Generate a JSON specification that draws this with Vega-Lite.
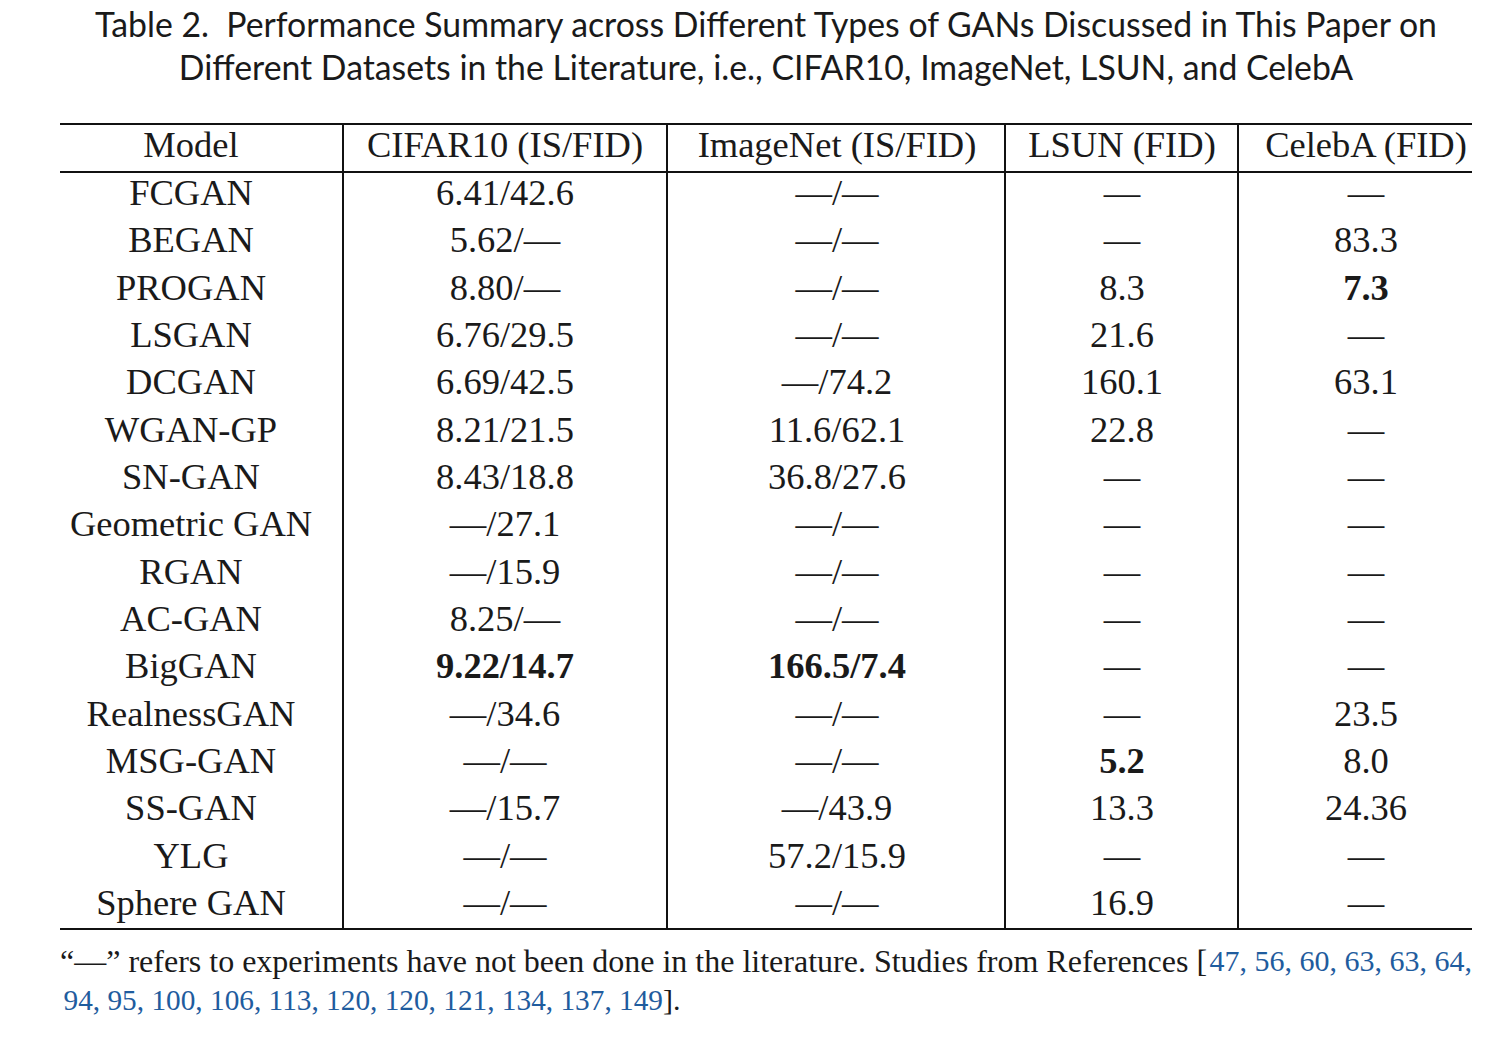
{
  "$schema": "https://vega.github.io/schema/vega-lite/v6.json",
  "width": 1412,
  "height": 1037,
  "autosize": "none",
  "padding": {"left": 60, "right": 39, "top": 0, "bottom": 0},
  "background": "white",
  "config": {"view": {"stroke": null}},
  "datasets": {
    "cells": [
      {"row": 0, "col": 0, "text": "Model"},
      {"row": 0, "col": 1, "text": "CIFAR10 (IS/FID)"},
      {"row": 0, "col": 2, "text": "ImageNet (IS/FID)"},
      {"row": 0, "col": 3, "text": "LSUN (FID)"},
      {"row": 0, "col": 4, "text": "CelebA (FID)"},
      {"row": 1, "col": 0, "text": "FCGAN"},
      {"row": 1, "col": 1, "text": "6.41/42.6"},
      {"row": 1, "col": 2, "text": "—/—"},
      {"row": 1, "col": 3, "text": "—"},
      {"row": 1, "col": 4, "text": "—"},
      {"row": 2, "col": 0, "text": "BEGAN"},
      {"row": 2, "col": 1, "text": "5.62/—"},
      {"row": 2, "col": 2, "text": "—/—"},
      {"row": 2, "col": 3, "text": "—"},
      {"row": 2, "col": 4, "text": "83.3"},
      {"row": 3, "col": 0, "text": "PROGAN"},
      {"row": 3, "col": 1, "text": "8.80/—"},
      {"row": 3, "col": 2, "text": "—/—"},
      {"row": 3, "col": 3, "text": "8.3"},
      {"row": 3, "col": 4, "text": "7.3", "best": 1},
      {"row": 4, "col": 0, "text": "LSGAN"},
      {"row": 4, "col": 1, "text": "6.76/29.5"},
      {"row": 4, "col": 2, "text": "—/—"},
      {"row": 4, "col": 3, "text": "21.6"},
      {"row": 4, "col": 4, "text": "—"},
      {"row": 5, "col": 0, "text": "DCGAN"},
      {"row": 5, "col": 1, "text": "6.69/42.5"},
      {"row": 5, "col": 2, "text": "—/74.2"},
      {"row": 5, "col": 3, "text": "160.1"},
      {"row": 5, "col": 4, "text": "63.1"},
      {"row": 6, "col": 0, "text": "WGAN-GP"},
      {"row": 6, "col": 1, "text": "8.21/21.5"},
      {"row": 6, "col": 2, "text": "11.6/62.1"},
      {"row": 6, "col": 3, "text": "22.8"},
      {"row": 6, "col": 4, "text": "—"},
      {"row": 7, "col": 0, "text": "SN-GAN"},
      {"row": 7, "col": 1, "text": "8.43/18.8"},
      {"row": 7, "col": 2, "text": "36.8/27.6"},
      {"row": 7, "col": 3, "text": "—"},
      {"row": 7, "col": 4, "text": "—"},
      {"row": 8, "col": 0, "text": "Geometric GAN"},
      {"row": 8, "col": 1, "text": "—/27.1"},
      {"row": 8, "col": 2, "text": "—/—"},
      {"row": 8, "col": 3, "text": "—"},
      {"row": 8, "col": 4, "text": "—"},
      {"row": 9, "col": 0, "text": "RGAN"},
      {"row": 9, "col": 1, "text": "—/15.9"},
      {"row": 9, "col": 2, "text": "—/—"},
      {"row": 9, "col": 3, "text": "—"},
      {"row": 9, "col": 4, "text": "—"},
      {"row": 10, "col": 0, "text": "AC-GAN"},
      {"row": 10, "col": 1, "text": "8.25/—"},
      {"row": 10, "col": 2, "text": "—/—"},
      {"row": 10, "col": 3, "text": "—"},
      {"row": 10, "col": 4, "text": "—"},
      {"row": 11, "col": 0, "text": "BigGAN"},
      {"row": 11, "col": 1, "text": "9.22/14.7", "best": 1},
      {"row": 11, "col": 2, "text": "166.5/7.4", "best": 1},
      {"row": 11, "col": 3, "text": "—"},
      {"row": 11, "col": 4, "text": "—"},
      {"row": 12, "col": 0, "text": "RealnessGAN"},
      {"row": 12, "col": 1, "text": "—/34.6"},
      {"row": 12, "col": 2, "text": "—/—"},
      {"row": 12, "col": 3, "text": "—"},
      {"row": 12, "col": 4, "text": "23.5"},
      {"row": 13, "col": 0, "text": "MSG-GAN"},
      {"row": 13, "col": 1, "text": "—/—"},
      {"row": 13, "col": 2, "text": "—/—"},
      {"row": 13, "col": 3, "text": "5.2", "best": 1},
      {"row": 13, "col": 4, "text": "8.0"},
      {"row": 14, "col": 0, "text": "SS-GAN"},
      {"row": 14, "col": 1, "text": "—/15.7"},
      {"row": 14, "col": 2, "text": "—/43.9"},
      {"row": 14, "col": 3, "text": "13.3"},
      {"row": 14, "col": 4, "text": "24.36"},
      {"row": 15, "col": 0, "text": "YLG"},
      {"row": 15, "col": 1, "text": "—/—"},
      {"row": 15, "col": 2, "text": "57.2/15.9"},
      {"row": 15, "col": 3, "text": "—"},
      {"row": 15, "col": 4, "text": "—"},
      {"row": 16, "col": 0, "text": "Sphere GAN"},
      {"row": 16, "col": 1, "text": "—/—"},
      {"row": 16, "col": 2, "text": "—/—"},
      {"row": 16, "col": 3, "text": "16.9"},
      {"row": 16, "col": 4, "text": "—"}
    ],
    "hlines": [{"row": -0.5}, {"row": 0.5}, {"row": 16.5}],
    "vlines": [{"col": 0.5}, {"col": 1.5}, {"col": 2.5}, {"col": 3.5}],
    "titlelines": [
      {"row": -2, "text": "Table 2.\u00a0 Performance Summary across Different Types of GANs Discussed in This Paper on"},
      {"row": -1, "text": "Different Datasets in the Literature, i.e., CIFAR10, ImageNet, LSUN, and CelebA"}
    ]
  },
  "encoding": {
    "x": {"field": "col", "type": "quantitative", "axis": null,
      "scale": {"zero": false, "nice": false,
        "domain": [-0.5, 0, 0.5, 1, 1.5, 2, 2.5, 3, 3.5, 4, 4.5],
        "range": [0, 131, 283, 445, 607, 777, 945, 1062, 1178, 1306, 1412]}},
    "y": {"field": "row", "type": "quantitative", "axis": null,
      "scale": {"zero": false, "nice": false,
        "domain": [-2, -1, -0.5, 0, 0.5, 1, 16, 16.5, 17, 18],
        "range": [27, 70, 124, 146, 172, 194, 904, 929, 962, 1001]}}
  },
  "layer": [
    {
      "data": {"name": "cells"},
      "transform": [{"filter": "datum.best !== 1"}],
      "mark": {"type": "text", "font": "Liberation Serif", "fontSize": 36.5, "baseline": "middle", "align": "center", "color": "#1a1a1a"},
      "encoding": {"text": {"field": "text"}}
    },
    {
      "data": {"name": "cells"},
      "transform": [{"filter": "datum.best === 1"}],
      "mark": {"type": "text", "font": "Liberation Serif", "fontSize": 36.5, "fontWeight": "bold", "baseline": "middle", "align": "center", "color": "#1a1a1a"},
      "encoding": {"text": {"field": "text"}}
    },
    {
      "data": {"name": "hlines"},
      "mark": {"type": "rule", "strokeWidth": 2.2, "color": "#111111"},
      "encoding": {"x": null}
    },
    {
      "data": {"name": "vlines"},
      "mark": {"type": "rule", "strokeWidth": 2, "color": "#111111"},
      "encoding": {
        "y": {"value": {"expr": "scale('y', -0.5)"}},
        "y2": {"value": {"expr": "scale('y', 16.5)"}}
      }
    },
    {
      "data": {"name": "titlelines"},
      "mark": {"type": "text", "font": "Lato", "fontSize": 33.8, "baseline": "middle", "align": "center", "color": "#1a1a1a", "x": {"expr": "width/2"}},
      "encoding": {"x": null, "text": {"field": "text"}}
    },
    {
      "data": {"values": [{"row": 17, "col": -0.5, "text": "“—” refers to experiments have not been done in the literature. Studies from References ["}]},
      "mark": {"type": "text", "font": "Liberation Serif", "fontSize": 32, "baseline": "middle", "align": "left", "color": "#1a1a1a"},
      "encoding": {"text": {"field": "text"}}
    },
    {
      "data": {"values": [{"row": 17, "col": 4.5, "text": "47, 56, 60, 63, 63, 64,"}]},
      "mark": {"type": "text", "font": "Liberation Serif", "fontSize": 30, "baseline": "middle", "align": "right", "color": "#1f5c9e"},
      "encoding": {"text": {"field": "text"}}
    },
    {
      "data": {"values": [{"row": 18, "col": 1.5, "text": "94, 95, 100, 106, 113, 120, 120, 121, 134, 137, 149"}]},
      "mark": {"type": "text", "font": "Liberation Serif", "fontSize": 29.3, "baseline": "middle", "align": "right", "dx": -4, "color": "#1f5c9e"},
      "encoding": {"text": {"field": "text"}}
    },
    {
      "data": {"values": [{"row": 18, "col": 1.5, "text": "]."}]},
      "mark": {"type": "text", "font": "Liberation Serif", "fontSize": 30, "baseline": "middle", "align": "left", "dx": -4, "color": "#1a1a1a"},
      "encoding": {"text": {"field": "text"}}
    }
  ]
}
